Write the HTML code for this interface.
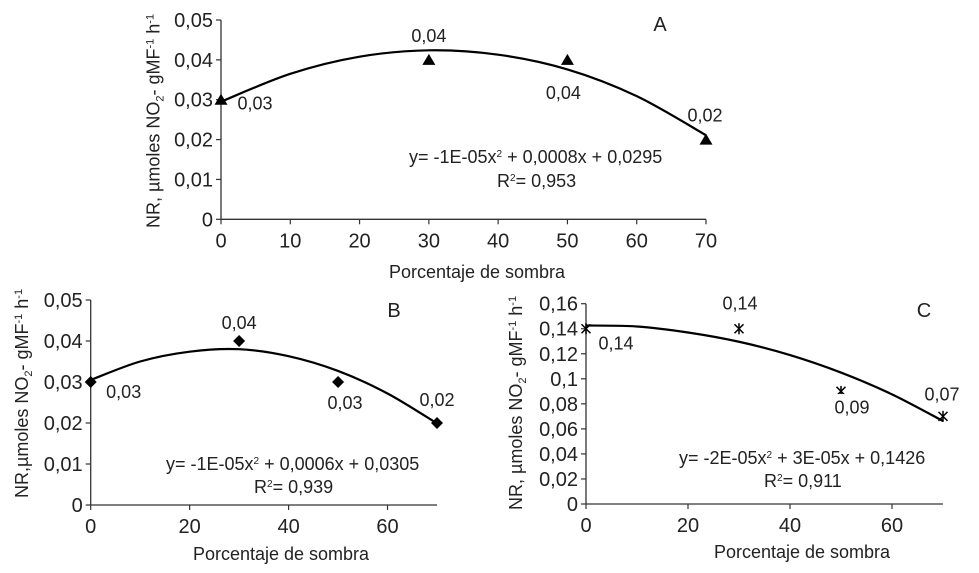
<!DOCTYPE html>
<html lang="es">
<head>
<meta charset="utf-8">
<title>NR vs Porcentaje de sombra</title>
<style>
html,body{margin:0;padding:0;background:#fff;}
svg{display:block;font-family:"Liberation Sans",sans-serif;fill:#222;}
text{fill:#222;}
</style>
</head>
<body>
<svg id="figure" xmlns="http://www.w3.org/2000/svg" width="979" height="573" viewBox="0 0 979 573">
  <rect x="0" y="0" width="979" height="573" fill="#fff"/>

  <text x="660" y="31" font-size="20" text-anchor="middle">A</text>
  <text x="394" y="317" font-size="20" text-anchor="middle">B</text>
  <text x="924" y="317" font-size="20" text-anchor="middle">C</text>

  <text transform="translate(159.5,228) rotate(-90)" font-size="18">NR, µmoles NO<tspan font-size="11" dy="4">2</tspan><tspan dy="-4">- gMF</tspan><tspan font-size="11" dy="-6">-1</tspan><tspan dy="6"> h</tspan><tspan font-size="11" dy="-6">-1</tspan></text>
  <text transform="translate(28,498) rotate(-90)" font-size="18">NR,µmoles NO<tspan font-size="11" dy="4">2</tspan><tspan dy="-4">- gMF</tspan><tspan font-size="11" dy="-6">-1</tspan><tspan dy="6"> h</tspan><tspan font-size="11" dy="-6">-1</tspan></text>
  <text transform="translate(522,510) rotate(-90)" font-size="18">NR, µmoles NO<tspan font-size="11" dy="4">2</tspan><tspan dy="-4">- gMF</tspan><tspan font-size="11" dy="-6">-1</tspan><tspan dy="6"> h</tspan><tspan font-size="11" dy="-6">-1</tspan></text>

  <text x="477" y="278" font-size="18" text-anchor="middle">Porcentaje de sombra</text>
  <text x="281" y="560" font-size="18" text-anchor="middle">Porcentaje de sombra</text>
  <text x="802" y="558" font-size="18" text-anchor="middle">Porcentaje de sombra</text>

  <text x="409" y="163" font-size="18">y= -1E-05x<tspan font-size="10" dy="-6">2</tspan><tspan dy="6"> + 0,0008x + 0,0295</tspan></text>
  <text x="497" y="187" font-size="18">R<tspan font-size="10" dy="-6">2</tspan><tspan dy="6">= 0,953</tspan></text>
  <text x="166" y="470" font-size="18">y= -1E-05x<tspan font-size="10" dy="-6">2</tspan><tspan dy="6"> + 0,0006x + 0,0305</tspan></text>
  <text x="254" y="493" font-size="18">R<tspan font-size="10" dy="-6">2</tspan><tspan dy="6">= 0,939</tspan></text>
  <text x="679" y="464" font-size="18">y= -2E-05x<tspan font-size="10" dy="-6">2</tspan><tspan dy="6"> + 3E-05x + 0,1426</tspan></text>
  <text x="764" y="487" font-size="18">R<tspan font-size="10" dy="-6">2</tspan><tspan dy="6">= 0,911</tspan></text>
</svg>
<script>
// Panel A data
var aXTicks = [0, 10, 20, 30, 40, 50, 60, 70];
var aYTicks = [0, 0.01, 0.02, 0.03, 0.04, 0.05];
var aYTickLabels = ['0', '0,01', '0,02', '0,03', '0,04', '0,05'];
var aShade = [0, 30, 50, 70];
var aValues = [0.03, 0.04, 0.04, 0.02];
var aValueLabels = ['0,03', '0,04', '0,04', '0,02'];
var aTrendShade = [0, 10, 20, 30, 40, 50, 60, 70];
var aTrendValues = [0.0295, 0.0365, 0.0408, 0.0424, 0.0413, 0.0376, 0.0309, 0.0211];

// Panel B data
var bXTicks = [0, 20, 40, 60];
var bYTicks = [0, 0.01, 0.02, 0.03, 0.04, 0.05];
var bYTickLabels = ['0', '0,01', '0,02', '0,03', '0,04', '0,05'];
var bShade = [0, 30, 50, 70];
var bValues = [0.03, 0.04, 0.03, 0.02];
var bValueLabels = ['0,03', '0,04', '0,03', '0,02'];
var bTrendShade = [0, 10, 20, 30, 40, 50, 60, 70];
var bTrendValues = [0.0305, 0.035, 0.0374, 0.038, 0.0363, 0.0327, 0.0272, 0.0199];

// Panel C data
var cXTicks = [0, 20, 40, 60];
var cYTicks = [0, 0.02, 0.04, 0.06, 0.08, 0.1, 0.12, 0.14, 0.16];
var cYTickLabels = ['0', '0,02', '0,04', '0,06', '0,08', '0,1', '0,12', '0,14', '0,16'];
var cShade = [0, 30, 50, 70];
var cValues = [0.14, 0.14, 0.09, 0.07];
var cValueLabels = ['0,14', '0,14', '0,09', '0,07'];
var cTrendShade = [0, 10, 20, 30, 40, 50, 60, 70];
var cTrendValues = [0.1426, 0.1418, 0.137, 0.1296, 0.119, 0.105, 0.0876, 0.0663];

var SVG_NS = 'http://www.w3.org/2000/svg';
var figure = document.getElementById('figure');

function make(tag) {
  return document.createElementNS(SVG_NS, tag);
}

function drawPanel(p) {
  var xScale = function (v) { return p.left + (v / p.xMax) * (p.right - p.left); };
  var yScale = function (v) { return p.bottom - (v / p.yMax) * (p.bottom - p.top); };

  var yAxis = make('line');
  
  
  yAxis.setAttribute('x1', p.left);
  yAxis.setAttribute('x2', p.left);
  yAxis.setAttribute('y1', p.top);
  yAxis.setAttribute('y2', p.bottom);
  yAxis.setAttribute('stroke', '#333');
  yAxis.setAttribute('stroke-width', '1.3');
  figure.appendChild(yAxis);

  var xAxis = make('line');
  
  
  xAxis.setAttribute('x1', p.left);
  xAxis.setAttribute('x2', p.right);
  xAxis.setAttribute('y1', p.bottom);
  xAxis.setAttribute('y2', p.bottom);
  xAxis.setAttribute('stroke', '#333');
  xAxis.setAttribute('stroke-width', '1.3');
  figure.appendChild(xAxis);

  p.yTicks.forEach(function (v, i) {
    var tick = make('line');
    
    
    tick.setAttribute('x1', p.left - 5);
    tick.setAttribute('x2', p.left);
    tick.setAttribute('y1', yScale(v));
    tick.setAttribute('y2', yScale(v));
    tick.setAttribute('stroke', '#333');
    tick.setAttribute('stroke-width', '1.2');
    figure.appendChild(tick);

    var label = make('text');
    
    
    label.setAttribute('x', p.left - 8);
    label.setAttribute('y', yScale(v) + 7);
    label.setAttribute('font-size', '20');
    label.setAttribute('text-anchor', 'end');
    label.textContent = p.yLabels[i];
    figure.appendChild(label);
  });

  p.xTicks.forEach(function (v) {
    var tick = make('line');
    
    
    tick.setAttribute('x1', xScale(v));
    tick.setAttribute('x2', xScale(v));
    tick.setAttribute('y1', p.bottom);
    tick.setAttribute('y2', p.bottom + 5);
    tick.setAttribute('stroke', '#333');
    tick.setAttribute('stroke-width', '1.2');
    figure.appendChild(tick);

    var label = make('text');
    
    
    label.setAttribute('x', xScale(v));
    label.setAttribute('y', p.bottom + 28);
    label.setAttribute('font-size', '20');
    label.setAttribute('text-anchor', 'middle');
    label.textContent = String(v);
    figure.appendChild(label);
  });

  // Smooth trend curve through the values (Catmull-Rom).
  var pts = p.trendX.map(function (v, i) { return [xScale(v), yScale(p.trendY[i])]; });
  var d = 'M' + pts[0][0] + ' ' + pts[0][1];
  for (var i = 0; i < pts.length - 1; i++) {
    var p0 = pts[Math.max(i - 1, 0)];
    var p1 = pts[i];
    var p2 = pts[i + 1];
    var p3 = pts[Math.min(i + 2, pts.length - 1)];
    d += ' C' + (p1[0] + (p2[0] - p0[0]) / 6) + ' ' + (p1[1] + (p2[1] - p0[1]) / 6) +
         ' ' + (p2[0] - (p3[0] - p1[0]) / 6) + ' ' + (p2[1] - (p3[1] - p1[1]) / 6) +
         ' ' + p2[0] + ' ' + p2[1];
  }
  var trend = make('path');
  
  
  trend.setAttribute('d', d);
  trend.setAttribute('fill', 'none');
  trend.setAttribute('stroke', '#000');
  trend.setAttribute('stroke-width', '2.2');
  figure.appendChild(trend);

  p.x.forEach(function (v, i) {
    var cx = xScale(v);
    var cy = yScale(p.y[i]);
    var marker = make('path');
    
    
    if (p.marker === 'triangle') {
      marker.setAttribute('d', 'M' + cx + ' ' + (cy - 6) + 'L' + (cx + 6.5) + ' ' + (cy + 5) + 'L' + (cx - 6.5) + ' ' + (cy + 5) + 'Z');
      marker.setAttribute('fill', '#000');
    } else if (p.marker === 'diamond') {
      marker.setAttribute('d', 'M' + cx + ' ' + (cy - 6) + 'L' + (cx + 6) + ' ' + cy + 'L' + cx + ' ' + (cy + 6) + 'L' + (cx - 6) + ' ' + cy + 'Z');
      marker.setAttribute('fill', '#000');
    } else {
      marker.setAttribute('d', 'M' + (cx - 4.5) + ' ' + (cy - 4.5) + 'L' + (cx + 4.5) + ' ' + (cy + 4.5) + 'M' + (cx + 4.5) + ' ' + (cy - 4.5) + 'L' + (cx - 4.5) + ' ' + (cy + 4.5) + 'M' + cx + ' ' + (cy - 5.5) + 'L' + cx + ' ' + (cy + 5.5));
      marker.setAttribute('fill', 'none');
      marker.setAttribute('stroke', '#000');
      marker.setAttribute('stroke-width', '1.5');
    }
    figure.appendChild(marker);

    // In the original, this label's white box covers the lower part of its marker.
    if (p.labelMask[i]) {
      var mask = make('rect');
      
      
      mask.setAttribute('x', cx - 8);
      mask.setAttribute('y', cy + 2.7);
      mask.setAttribute('width', 16);
      mask.setAttribute('height', 6);
      mask.setAttribute('fill', '#fff');
      figure.appendChild(mask);
    }

    var valueLabel = make('text');
    
    
    valueLabel.setAttribute('x', cx + p.labelDx[i]);
    valueLabel.setAttribute('y', cy + p.labelDy[i]);
    valueLabel.setAttribute('font-size', '18');
    valueLabel.setAttribute('text-anchor', 'middle');
    valueLabel.textContent = p.labels[i];
    figure.appendChild(valueLabel);
  });
}

drawPanel({
  left: 221, right: 706, top: 20, bottom: 219.3, xMax: 70, yMax: 0.05,
  xTicks: aXTicks, yTicks: aYTicks, yLabels: aYTickLabels,
  x: aShade, y: aValues, labels: aValueLabels,
  trendX: aTrendShade, trendY: aTrendValues,
  marker: 'triangle',
  labelDx: [34, 0, -4, -1], labelDy: [10, -18, 39, -18],
  labelMask: [false, false, false, false]
});
drawPanel({
  left: 90.7, right: 437, top: 300, bottom: 505, xMax: 70, yMax: 0.05,
  xTicks: bXTicks, yTicks: bYTicks, yLabels: bYTickLabels,
  x: bShade, y: bValues, labels: bValueLabels,
  trendX: bTrendShade, trendY: bTrendValues,
  marker: 'diamond',
  labelDx: [33, 0, 7, 0], labelDy: [16, -12, 27, -17],
  labelMask: [false, false, false, false]
});
drawPanel({
  left: 586, right: 943, top: 303.7, bottom: 504, xMax: 70, yMax: 0.16,
  xTicks: cXTicks, yTicks: cYTicks, yLabels: cYTickLabels,
  x: cShade, y: cValues, labels: cValueLabels,
  trendX: cTrendShade, trendY: cTrendValues,
  marker: 'star',
  labelDx: [30, 1, 11, -1], labelDy: [21, -19, 22, -16],
  labelMask: [false, false, true, false]
});
</script>
</body>
</html>
